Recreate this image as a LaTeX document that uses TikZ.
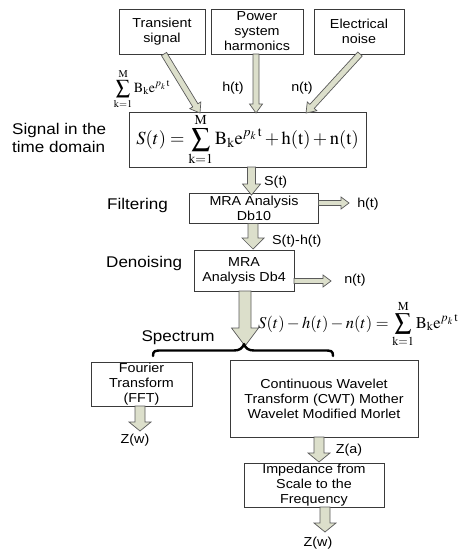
\documentclass[tikz,border=0pt]{standalone}
\usepackage{mathptmx}
\usepackage[no-math]{fontspec}
\setmainfont{Liberation Sans}[FakeStretch=1.1]
\usetikzlibrary{calc}
\definecolor{arrowfill}{HTML}{DCDFCB}
\definecolor{arrowline}{HTML}{5A5A5A}
\definecolor{boxline}{HTML}{3A3A3A}
\tikzset{
  box/.style={draw=boxline, line width=0.9pt, align=center, inner sep=0pt,
    font=\fontsize{13}{15}\selectfont},
  lbl/.style={inner sep=0pt, font=\fontsize{15.5}{18}\selectfont},
  sml/.style={inner sep=0pt, font=\fontsize{13}{15}\selectfont},
  arrowbody/.style={draw=arrowline, fill=arrowfill, line width=0.7pt, line join=miter},
  blk/.style n args={3}{arrowbody, to path={
    ($(\tikztostart)!#1!90:(\tikztotarget)$)
    -- ($($(\tikztotarget)!#3!(\tikztostart)$)!#1!90:(\tikztotarget)$)
    -- ($($(\tikztotarget)!#3!(\tikztostart)$)!#2!90:(\tikztotarget)$)
    -- (\tikztotarget)
    -- ($($(\tikztotarget)!#3!(\tikztostart)$)!#2!-90:(\tikztotarget)$)
    -- ($($(\tikztotarget)!#3!(\tikztostart)$)!#1!-90:(\tikztotarget)$)
    -- ($(\tikztostart)!#1!-90:(\tikztotarget)$) -- cycle}},
  brc/.style={draw=black, line width=2.4pt, line cap=round, line join=round}
}
\begin{document}
\begin{tikzpicture}[x=1pt,y=-1pt]
\useasboundingbox (0,0) rectangle (465,551);
% boxes
\node[box, minimum width=86pt, minimum height=45pt] (trans) at (162,31.5) {Transient\\signal};
\node[box, minimum width=92pt, minimum height=45pt] (power) at (257,31.5) {Power\\system\\harmonics};
\node[box, minimum width=90pt, minimum height=45pt] (elec) at (359,31.5) {Electrical\\noise};
\node[box, minimum width=237pt, minimum height=55pt, font=\fontsize{18.5}{20}\selectfont] (main) at (247.5,139.5)
  {$\displaystyle S(t)=\sum_{\mathrm{k=1}}^{\mathrm{M}}\mathrm{B_k e}^{p_{k}\,\mathrm{t}}+\mathrm{h(t)}+\mathrm{n(t)}$};
\node[box, minimum width=129pt, minimum height=30pt] (db10) at (254,208.5) {MRA Analysis\\Db10};
\node[box, minimum width=100pt, minimum height=41pt] (db4) at (244,270.5) {MRA\\Analysis Db4};
\node[box, minimum width=101pt, minimum height=44pt] (fft) at (141.5,384) {Fourier\\Transform\\(FFT)};
\node[box, minimum width=188pt, minimum height=77pt] (cwt) at (324,398.5) {Continuous Wavelet\\Transform (CWT) Mother\\Wavelet Modified Morlet};
\node[box, minimum width=140pt, minimum height=44pt] (imp) at (314,485) {Impedance from\\Scale to the\\Frequency};
% labels
\node[lbl, anchor=west, align=left] (sig) at (12,138) {Signal in the\\time domain};
\node[lbl, anchor=west] (filt) at (107,205) {Filtering};
\node[lbl, anchor=west] (deno) at (106,263) {Denoising};
\node[lbl] (spec) at (178,338) {Spectrum};
\node[inner sep=0pt, font=\fontsize{14}{14}\selectfont] (sumlbl) at (142,89)
  {$\displaystyle\sum_{\mathrm{k=1}}^{\mathrm{M}}\mathrm{B_k e}^{p_{k}\,\mathrm{t}}$};
\node[sml] (hlbl) at (233,88) {h(t)};
\node[sml] (nlbl) at (302,88) {n(t)};
\node[sml, anchor=west] (slbl) at (264,182) {S(t)};
\node[sml] (hout) at (368,204) {h(t)};
\node[sml, anchor=west] (shlbl) at (272,241) {S(t)-h(t)};
\node[sml] (nout) at (355,280) {n(t)};
\node[inner sep=0pt, anchor=west, font=\fontsize{16.5}{17}\selectfont] (res) at (258,324)
  {$S(t)-h(t)-n(t)=\displaystyle\sum_{\mathrm{k=1}}^{\mathrm{M}}\mathrm{B_k e}^{p_{k}\,\mathrm{t}}$};
\node[sml] (zw1) at (135,440) {Z(w)};
\node[sml] (za) at (349,450) {Z(a)};
\node[sml] (zw2) at (318,543) {Z(w)};
% connector ends
\coordinate (t1) at (164,54);   \coordinate (t2) at (200,113);
\coordinate (p1) at (256,54);   \coordinate (p2) at (256,113);
\coordinate (e1) at (360,54);   \coordinate (e2) at (306,113);
\coordinate (s1) at (251.5,167); \coordinate (s2) at (251.5,195);
\coordinate (h1) at (318.5,203); \coordinate (h2) at (349,203);
\coordinate (d1) at (253,223.5); \coordinate (d2) at (253,249);
\coordinate (n1) at (294,281);  \coordinate (n2) at (331,281);
\coordinate (b1) at (245,291);  \coordinate (b2) at (245,346);
\coordinate (f1) at (140,406);  \coordinate (f2) at (140,431);
\coordinate (c1) at (319,437);  \coordinate (c2) at (319,462);
\coordinate (i1) at (325,507);  \coordinate (i2) at (325,532);
\coordinate (brl) at (153,356); \coordinate (brt) at (244,344); \coordinate (brr) at (333,356);
% arrows
\draw[blk={3pt}{6.5pt}{9pt}] (t1) to (t2);
\draw[blk={3pt}{6.5pt}{9pt}] (p1) to (p2);
\draw[blk={3pt}{6.5pt}{9pt}] (e1) to (e2);
\draw[blk={4pt}{9pt}{11pt}] (s1) to (s2);
\draw[blk={2.5pt}{6pt}{8pt}] (h1) to (h2);
\draw[blk={5pt}{11pt}{11pt}] (d1) to (d2);
\draw[blk={2.5pt}{6pt}{8pt}] (n1) to (n2);
\draw[blk={6pt}{13.5pt}{18pt}] (b1) to (b2);
\draw[blk={5pt}{11pt}{9pt}] (f1) to (f2);
\draw[blk={5pt}{11pt}{9pt}] (c1) to (c2);
\draw[blk={5pt}{11pt}{9pt}] (i1) to (i2);
% brace (tip upward, ends curling down)
\draw[brc] (brl) .. controls (153,350.5) and (155,350.5) .. (162,350.5)
  -- (234,350.5) .. controls (240,350.5) and (242.5,348) .. (brt)
  .. controls (245.5,348) and (248,350.5) .. (254,350.5)
  -- (324,350.5) .. controls (331,350.5) and (333,350.5) .. (brr);
\end{tikzpicture}
\end{document}
